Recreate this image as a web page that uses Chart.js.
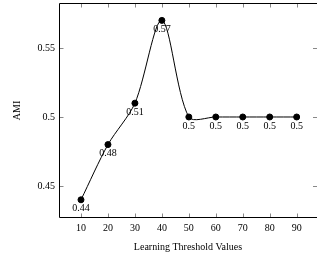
<!DOCTYPE html>
<html>
<head>
<meta charset="utf-8">
<script src="https://cdn.jsdelivr.net/npm/chart.js@4"></script>
<style>
html, body { margin: 0; padding: 0; background: #fff; }
</style>
</head>
<body>
<canvas id="line-chart" width="317" height="259"></canvas>
<script>
// data
const thresholds = [10, 20, 30, 40, 50, 60, 70, 80, 90];
const amiValues = [0.44, 0.48, 0.51, 0.57, 0.5, 0.5, 0.5, 0.5, 0.5];
const xTicks = [10, 20, 30, 40, 50, 60, 70, 80, 90];
const yTicks = [0.45, 0.5, 0.55];

const serif = "'Liberation Serif', 'DejaVu Serif', serif";

// frame, inward ticks and point labels (pgfplots look)
// the right side of the frame falls just outside the picture
const framePlugin = {
    id: 'frame',
    afterDatasetsDraw(chart) {
        const ctx = chart.ctx;
        const a = chart.chartArea;
        const xs = chart.scales.x, ys = chart.scales.y;
        const L = Math.round(a.left) + 0.5, R = Math.round(a.right) + 1;
        const T = Math.round(a.top) + 0.5, B = Math.round(a.bottom) - 0.5;
        ctx.save();
        ctx.strokeStyle = '#888';
        ctx.lineWidth = 1;
        ctx.beginPath();
        xTicks.forEach(v => {
            const px = Math.round(xs.getPixelForValue(v)) + 0.5;
            ctx.moveTo(px, B); ctx.lineTo(px, B - 4);
            ctx.moveTo(px, T); ctx.lineTo(px, T + 4);
        });
        yTicks.forEach(v => {
            const py = Math.round(ys.getPixelForValue(v)) + 0.5;
            ctx.moveTo(L, py); ctx.lineTo(L + 4, py);
            ctx.moveTo(R, py); ctx.lineTo(R - 5, py);
        });
        ctx.stroke();
        ctx.strokeStyle = '#000';
        ctx.beginPath();
        ctx.moveTo(R, T); ctx.lineTo(L, T); ctx.lineTo(L, B); ctx.lineTo(R, B);
        ctx.stroke();

        ctx.fillStyle = '#000';
        ctx.font = '10px ' + serif;
        ctx.textAlign = 'center';
        ctx.textBaseline = 'middle';
        chart.getDatasetMeta(0).data.forEach((pt, i) => {
            ctx.fillText(String(amiValues[i]), pt.x, pt.y + 9);
        });
        ctx.restore();
    }
};

function noEdgePadding(s) {
    s.paddingLeft = 0;
    s.paddingRight = 0;
    s.paddingTop = 0;
    s.paddingBottom = 0;
}

new Chart(document.getElementById('line-chart'), {
    type: 'line',
    data: {
        datasets: [{
            data: thresholds.map((x, i) => ({ x: x, y: amiValues[i] })),
            borderColor: '#000',
            backgroundColor: '#000',
            borderWidth: 1,
            pointRadius: 3,
            pointBackgroundColor: '#000',
            tension: 0.3,
            fill: false
        }]
    },
    options: {
        responsive: false,
        animation: false,
        layout: { autoPadding: false, padding: { left: 0, right: 0, top: 3, bottom: 0 } },
        plugins: {
            legend: { display: false },
            tooltip: { enabled: false }
        },
        scales: {
            x: {
                type: 'linear',
                min: 1.84,
                max: 97.54,
                afterBuildTicks: s => { s.ticks = xTicks.map(v => ({ value: v })); },
                afterFit: s => { s.height = 41; noEdgePadding(s); },
                grid: { display: false, drawTicks: false },
                border: { display: false },
                ticks: {
                    padding: 4,
                    color: '#000',
                    font: { family: serif, size: 10 },
                    callback: v => String(v)
                },
                title: {
                    display: true,
                    text: 'Learning Threshold Values',
                    color: '#000',
                    font: { family: serif, size: 10 },
                    padding: { top: 0, bottom: 6 }
                }
            },
            y: {
                min: 0.4268,
                max: 0.5826,
                afterBuildTicks: s => { s.ticks = yTicks.map(v => ({ value: v })); },
                afterFit: s => { s.width = 59; noEdgePadding(s); },
                grid: { display: false, drawTicks: false },
                border: { display: false },
                ticks: {
                    padding: 4,
                    color: '#000',
                    font: { family: serif, size: 10 },
                    callback: v => String(v)
                },
                title: {
                    display: true,
                    text: 'AMI',
                    color: '#000',
                    font: { family: serif, size: 10 },
                    padding: { top: 11, bottom: 11 }
                }
            }
        }
    },
    plugins: [framePlugin]
});
</script>
</body>
</html>
